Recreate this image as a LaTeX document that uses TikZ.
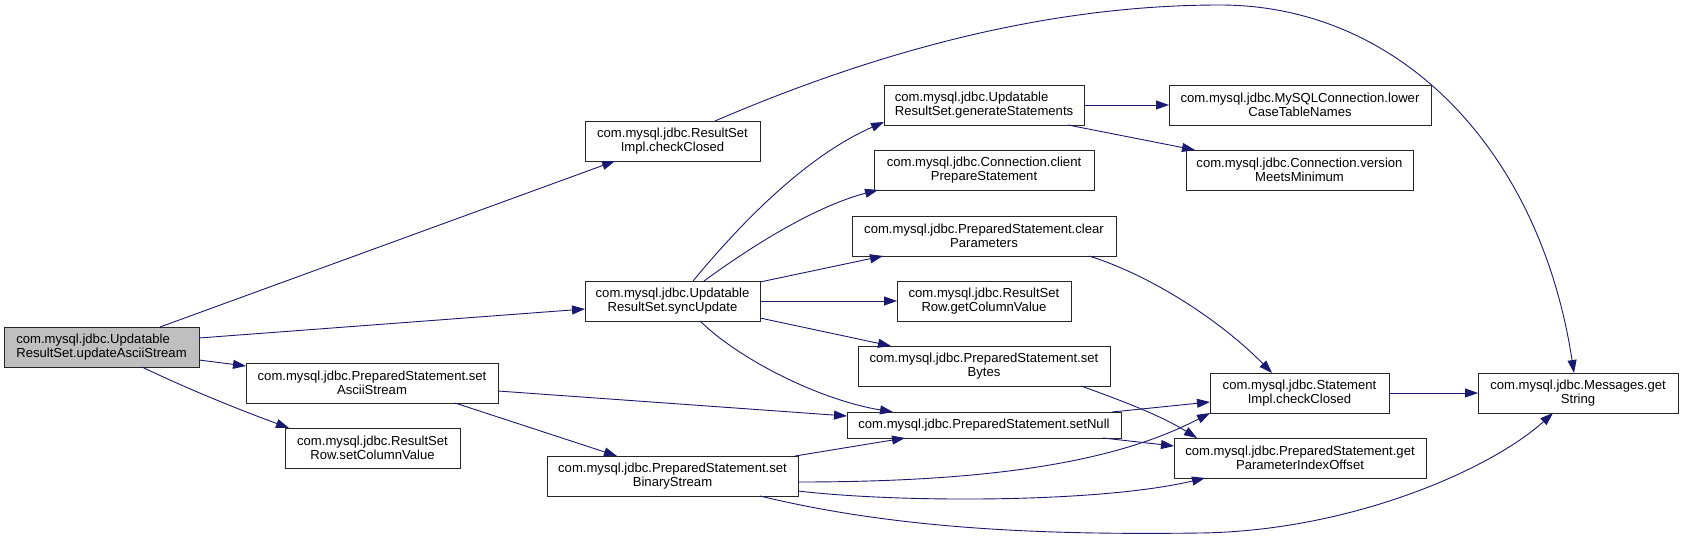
\documentclass[tikz,border=0pt]{standalone}
\usepackage{fontspec}
\setmainfont{Liberation Sans}
\usetikzlibrary{arrows.meta,calc}
\definecolor{edgeblue}{HTML}{191970}
\definecolor{rootgray}{HTML}{BFBFBF}
\begin{document}
\begin{tikzpicture}[x=1pt,y=-1pt,
  box/.style={draw=black!85, line width=1pt, fill=white, inner sep=0pt, outer sep=0pt,
    align=center, font=\fontsize{13.1}{14.3}\selectfont},
  call/.style={draw=edgeblue, line width=0.9pt, -{Triangle[length=13pt,width=9pt]}}]
\useasboundingbox[fill=white] (0,0) rectangle (1684,541);
% nodes
\node[box, fill=rootgray, align=left, minimum width=195pt, minimum height=40pt] (A) at (101.5,347) {com.mysql.jdbc.Updatable\\ResultSet.updateAsciiStream};
\node[box, minimum width=175pt, minimum height=40pt] (B) at (672.5,141) {com.mysql.jdbc.ResultSet\\Impl.checkClosed};
\node[box, minimum width=175pt, minimum height=40pt] (C) at (672.5,301) {com.mysql.jdbc.Updatable\\ResultSet.syncUpdate};
\node[box, minimum width=252pt, minimum height=40pt] (D) at (372,383) {com.mysql.jdbc.PreparedStatement.set\\AsciiStream};
\node[box, minimum width=175pt, minimum height=40pt] (E) at (372.5,448) {com.mysql.jdbc.ResultSet\\Row.setColumnValue};
\node[box, minimum width=251pt, minimum height=40pt] (F) at (672.5,476) {com.mysql.jdbc.PreparedStatement.set\\BinaryStream};
\node[box, align=left, minimum width=200pt, minimum height=40pt] (G) at (984,105) {com.mysql.jdbc.Updatable\\ResultSet.generateStatements};
\node[box, minimum width=220pt, minimum height=40pt] (H) at (984,170) {com.mysql.jdbc.Connection.client\\PrepareStatement};
\node[box, minimum width=264pt, minimum height=40pt] (I) at (984,236) {com.mysql.jdbc.PreparedStatement.clear\\Parameters};
\node[box, minimum width=174pt, minimum height=40pt] (J) at (984,301) {com.mysql.jdbc.ResultSet\\Row.getColumnValue};
\node[box, minimum width=252pt, minimum height=40pt] (K) at (984,366) {com.mysql.jdbc.PreparedStatement.set\\Bytes};
\node[box, minimum width=274pt, minimum height=26pt] (L) at (984,425) {com.mysql.jdbc.PreparedStatement.setNull};
\node[box, minimum width=262pt, minimum height=40pt] (M) at (1300,105) {com.mysql.jdbc.MySQLConnection.lower\\CaseTableNames};
\node[box, minimum width=227pt, minimum height=40pt] (N) at (1299.5,170) {com.mysql.jdbc.Connection.version\\MeetsMinimum};
\node[box, minimum width=179pt, minimum height=40pt] (O) at (1299.5,393) {com.mysql.jdbc.Statement\\Impl.checkClosed};
\node[box, minimum width=252pt, minimum height=40pt] (P) at (1300,458) {com.mysql.jdbc.PreparedStatement.get\\ParameterIndexOffset};
\node[box, minimum width=200pt, minimum height=40pt] (Q) at (1578,393) {com.mysql.jdbc.Messages.get\\String};
% edges
\draw[call] ($(A.north west)+(156,0)$) -- ($(B.south west)+(30,0)$);
\draw[call] ($(A.north east)+(0,11)$) -- ($(C.north west)+(0,28)$);
\draw[call] ($(A.north east)+(0,33)$) -- ($(D.north west)+(0,3)$);
\draw[call] ($(A.south west)+(138,0)$) .. controls (190,390) and (240,410) .. ($(E.north west)+(4,0)$);
\draw[call] ($(B.north west)+(130,0)$) .. controls (880,50) and (1050,5) .. (1220,5)
   .. controls (1400,5) and (1540,150) .. ($(Q.north west)+(96,0)$);
\draw[call] ($(C.north west)+(108,0)$) .. controls (760,200) and (820,150) .. ($(G.south west)+(0,-3)$);
\draw[call] ($(C.north west)+(119,0)$) .. controls (760,240) and (820,205) .. ($(H.south west)+(4,0)$);
\draw[call] ($(C.north east)+(0,1)$) -- ($(I.south west)+(31,0)$);
\draw[call] (C.east) -- (J.west);
\draw[call] ($(C.south east)+(0,-3)$) -- ($(K.north west)+(33,0)$);
\draw[call] ($(C.south west)+(115,0)$) .. controls (740,360) and (820,400) .. ($(L.north west)+(46,0)$);
\draw[call] ($(D.north east)+(0,28)$) -- ($(L.north west)+(0,4)$);
\draw[call] ($(D.south west)+(209,0)$) -- ($(F.north west)+(70,0)$);
\draw[call] ($(F.north east)+(-3,0)$) -- ($(L.south west)+(58,0)$);
\draw[call] ($(F.north east)+(0,26)$) .. controls (1000,482) and (1120,460) .. (O.south west);
\draw[call] ($(F.south east)+(0,-5)$) .. controls (900,503) and (1100,503) .. ($(P.south west)+(31,0)$);
\draw[call] ($(F.south west)+(213,0)$) .. controls (900,530) and (1050,535) .. (1200,533)
   .. controls (1350,531) and (1490,470) .. ($(Q.south west)+(75,0)$);
\draw[call] (G.east) -- (M.west);
\draw[call] ($(G.south east)+(-16,0)$) -- ($(N.north west)+(9,0)$);
\draw[call] ($(I.south east)+(-27,0)$) .. controls (1150,275) and (1220,320) .. ($(O.north west)+(62,0)$);
\draw[call] ($(K.south east)+(-29,0)$) .. controls (1120,400) and (1160,415) .. ($(P.north west)+(23,0)$);
\draw[call] ($(L.north east)+(-9,0)$) -- ($(O.north west)+(0,29)$);
\draw[call] ($(L.south east)+(-18,0)$) -- ($(P.north west)+(0,8)$);
\draw[call] (O.east) -- (Q.west);
\end{tikzpicture}
\end{document}
